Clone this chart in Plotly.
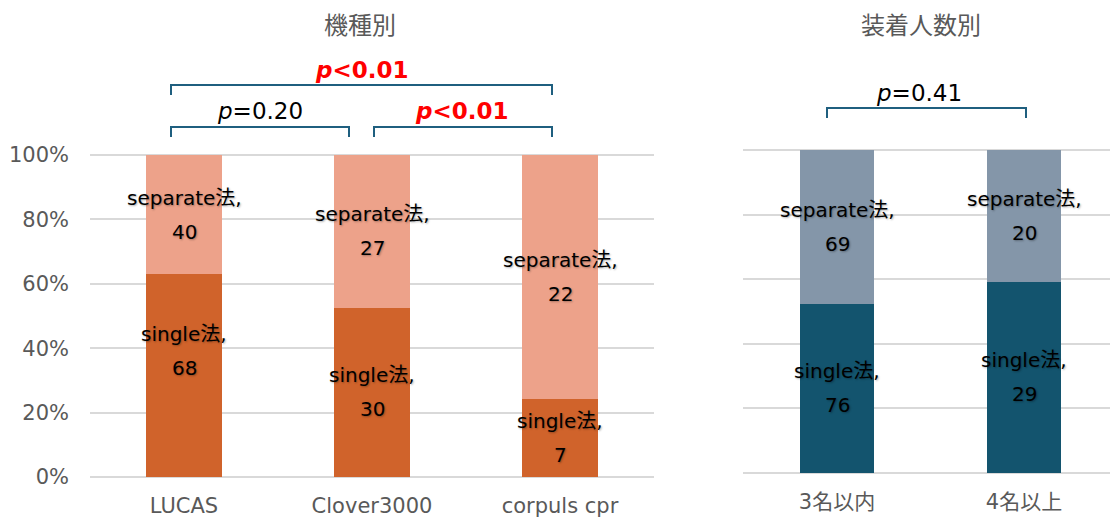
import plotly.graph_objects as go

# Counts by device
devices = ["LUCAS", "Clover3000", "corpuls cpr"]
device_single = [68, 30, 7]
device_separate = [40, 27, 22]

# Counts by number of staff attaching the device
staff = ["3名以内", "4名以上"]
staff_single = [76, 29]
staff_separate = [69, 20]

y_ticks = [0, 20, 40, 60, 80, 100]
y_tick_text = [f"{v}%" for v in y_ticks]

FONT = "DejaVu Sans, Noto Sans CJK JP, sans-serif"
GREY = "#595959"
GRID = "#D9D9D9"
BRACKET = "#1F5F7F"
W, H = 1110, 520

# Small headroom above 100% so the top gridline is drawn
Y_TOP = 100.6

fig = go.Figure()

fig.add_trace(go.Bar(x=devices, y=device_single, name="single法", marker_color="#D0632B",
                     marker_line_width=0, width=0.4, xaxis="x", yaxis="y"))
fig.add_trace(go.Bar(x=devices, y=device_separate, name="separate法", marker_color="#EDA28A",
                     marker_line_width=0, width=0.4, xaxis="x", yaxis="y"))
fig.add_trace(go.Bar(x=staff, y=staff_single, name="single法", marker_color="#13546E",
                     marker_line_width=0, width=0.4, xaxis="x2", yaxis="y2"))
fig.add_trace(go.Bar(x=staff, y=staff_separate, name="separate法", marker_color="#8496A9",
                     marker_line_width=0, width=0.4, xaxis="x2", yaxis="y2"))

annotations = []


def segment_labels(cats, single, separate, xref, yref, single_shift=None):
    for i, cat in enumerate(cats):
        total = single[i] + separate[i]
        s_pct = single[i] / total * 100
        mids = [("single法,", single[i], s_pct / 2),
                ("separate法,", separate[i], s_pct + (100 - s_pct) / 2)]
        for j, (name, val, mid) in enumerate(mids):
            extra = single_shift[i] if (single_shift and j == 0) else 0
            for txt, dy in ((name, 17), (str(val), -17)):
                annotations.append(dict(
                    x=cat, y=mid, xref=xref, yref=yref, text=txt, showarrow=False,
                    xanchor="center", yanchor="middle", yshift=dy + extra,
                    font=dict(family=FONT, size=20, color="#000000",
                              shadow="1px 1px 2px rgba(0,0,0,0.3)")))


segment_labels(devices, device_single, device_separate, "x", "y", single_shift=[25, 0, 0])
segment_labels(staff, staff_single, staff_separate, "x2", "y2")

# Panel titles
for text, xc in (("機種別", 360), ("装着人数別", 921)):
    annotations.append(dict(x=xc / W, y=1 - 26 / H, xref="paper", yref="paper", text=text,
                            showarrow=False, xanchor="center", yanchor="middle",
                            font=dict(family=FONT, size=24, color=GREY)))

# Significance labels
p_labels = [
    ("<b><i>p</i>&lt;0.01</b>", 362, 70, "#FF0000"),
    ("<i>p</i>=0.20", 260, 111, "#000000"),
    ("<b><i>p</i>&lt;0.01</b>", 462, 111, "#FF0000"),
    ("<i>p</i>=0.41", 919, 93, "#000000"),
]
for text, xc, yc, col in p_labels:
    annotations.append(dict(x=xc / W, y=1 - yc / H, xref="paper", yref="paper", text=text,
                            showarrow=False, xanchor="center", yanchor="middle",
                            font=dict(family=FONT, size=23, color=col)))

# Brackets (left x, right x, top y, bottom y) in pixels
brackets = [(171, 552, 85, 95), (171, 349, 127, 137), (374, 552, 127, 137), (827, 1026, 108, 118)]
shapes = []
for x1, x2, yt, yb in brackets:
    px = lambda v: v / W
    py = lambda v: 1 - v / H
    shapes.append(dict(
        type="path", xref="paper", yref="paper",
        path=f"M {px(x1)},{py(yb)} L {px(x1)},{py(yt)} L {px(x2)},{py(yt)} L {px(x2)},{py(yb)}",
        line=dict(color=BRACKET, width=2)))

axis_common = dict(showline=False, ticks="", automargin=False,
                   tickfont=dict(family=FONT, size=21, color=GREY))

# plot areas in pixels: 0% and 100% rows
L_BOT, L_TOP = 477, 155
R_BOT, R_TOP = 473, 150
l_top = L_TOP - (L_BOT - L_TOP) * (Y_TOP - 100) / 100
r_top = R_TOP - (R_BOT - R_TOP) * (Y_TOP - 100) / 100

fig.update_layout(
    width=W, height=H,
    barmode="stack", barnorm="percent",
    showlegend=False,
    paper_bgcolor="white", plot_bgcolor="white",
    margin=dict(l=0, r=0, t=0, b=0, pad=0),
    xaxis=dict(domain=[90 / W, 654 / W], range=[-0.5, 2.5], showgrid=False,
               ticklabelstandoff=14, anchor="y", **axis_common),
    yaxis=dict(domain=[1 - L_BOT / H, 1 - l_top / H], range=[0, Y_TOP], tickmode="array",
               tickvals=y_ticks, ticktext=y_tick_text,
               showgrid=True, gridcolor=GRID, gridwidth=1.5,
               zeroline=True, zerolinecolor=GRID, zerolinewidth=1.5,
               ticklabelstandoff=20, anchor="x", **axis_common),
    xaxis2=dict(domain=[743 / W, 1.0], range=[-0.503, 1.46], showgrid=False,
                ticklabelstandoff=14, anchor="y2", **axis_common),
    yaxis2=dict(domain=[1 - R_BOT / H, 1 - r_top / H], range=[0, Y_TOP], tickmode="array",
                tickvals=y_ticks, showticklabels=False,
                showgrid=True, gridcolor=GRID, gridwidth=1.5,
                zeroline=True, zerolinecolor=GRID, zerolinewidth=1.5, anchor="x2",
                **axis_common),
    annotations=annotations,
    shapes=shapes,
)

fig.write_html("out.html")
